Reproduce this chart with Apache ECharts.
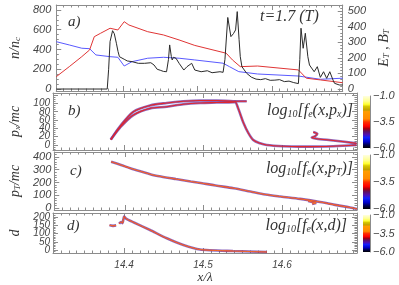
<!DOCTYPE html>
<html><head><meta charset="utf-8">
<script src="https://cdn.jsdelivr.net/npm/echarts@6/dist/echarts.min.js"></script>
<style>html,body{margin:0;padding:0;background:#fff}#c{width:399px;height:285px}</style>
</head><body><div id="c"></div><script>
// ---------- data ----------
const xMin = 14.31, xMax = 14.695;
// panel a: n/n_c (black, left axis)
const densX = [14.3101,14.3785,14.3804,14.3823,14.3857,14.3880,14.3908,14.3930,14.3949,14.4013,14.4054,14.4076,14.4118,14.4203,14.4287,14.4371,14.4414,14.4456,14.4497,14.4541,14.4582,14.4608,14.4624,14.4646,14.4658,14.4675,14.4709,14.4751,14.4814,14.4857,14.4920,14.4962,14.5047,14.5130,14.5194,14.5300,14.5342,14.5367,14.5405,14.5447,14.5481,14.5510,14.5532,14.5557,14.5573,14.5595,14.5658,14.5722,14.5785,14.5848,14.5911,14.5975,14.6038,14.6101,14.6165,14.6228,14.6291,14.6354,14.6373,14.6389,14.6418,14.6447,14.6481,14.6503,14.6523,14.6566,14.6608,14.6649,14.6692,14.6734,14.6776,14.6819,14.6839,14.6903,14.6949];
const densN = [0,0,200,480,590,560,463,380,327,301,284,294,277,260,260,266,243,200,190,178,175,300,446,330,294,321,311,260,192,226,260,192,175,185,165,175,169,300,724,530,560,598,783,500,327,226,160,120,100,95,105,88,90,95,75,80,65,55,300,615,412,564,327,243,260,175,226,118,175,108,175,91,58,41,41];
// panel a: E_T (red, right axis)
const etX = [14.3101,14.3275,14.3443,14.3548,14.3611,14.3696,14.3823,14.3928,14.4013,14.4076,14.4329,14.4541,14.4751,14.4962,14.5384,14.5468,14.5573,14.5806,14.6354,14.6460,14.6649,14.6949];
const etV = [79,143,207,250,335,357,389,378,431,410,367,346,314,279,229,186,143,147,122,69,58,40];
// panel a: B_T (blue, right axis)
const btX = [14.3101,14.3275,14.3443,14.3548,14.3633,14.3823,14.3928,14.4013,14.4118,14.4329,14.4541,14.4751,14.4962,14.5342,14.5427,14.5553,14.5806,14.6354,14.6649,14.6949];
const btV = [303,282,261,258,218,207,203,147,175,197,203,197,186,165,143,111,96,83,62,69];
// panel b: p_x/mc
const pxUpX = [14.3832,14.3949,14.4118,14.4329,14.4541,14.4751,14.4962,14.5173,14.5384,14.5553];
const pxUp = [13,45,80,95,101,105,107,107,105,105];
const pxLoX = [14.3832,14.3949,14.4118,14.4329,14.4541,14.4751,14.4962,14.5173,14.5384,14.5405,14.5447,14.5510,14.5573,14.5636,14.5722,14.5806,14.6017,14.6228,14.6649,14.6944];
const pxLo = [13,42,72,88,92,98,101,102,103,104,87,54,29,12,4,0,-3,-4,-3,0];
const pxCurlX = [14.6396,14.6447,14.6418,14.6377,14.6440,14.6649,14.6944];
const pxCurl = [31,27,21,18,15,11,4];
// panel c: p_T/mc
const ptX = [14.3823,14.3949,14.4076,14.4203,14.4329,14.4456,14.4646,14.4835,14.4962,14.5152,14.5380,14.5595,14.5785,14.5975,14.6228,14.6481,14.6671,14.6861,14.6949];
const pt = [363,337,310,286,263,247,227,208,196,176,155,129,106,90,71,47,24,4,-8];
const ptBlipX = [14.6329,14.6430,14.6380];
const ptBlip = [55,39,31];
// panel d: d
const dDashX = [14.3816,14.3861,14.3899];
const dDash = [150,146,149];
const dX = [14.3937,14.3962,14.3981,14.4000,14.4025,14.4118,14.4329,14.4541,14.4751,14.4962,14.5380,14.5810];
const dV = [160,170,163,203,190,168,121,71,30,3,-6,-12];
// colour bar tick labels (log10 f)
const cbLabels = ['\u22126.0','\u22123.5','\u22121.0'];

// ---------- styling ----------
const sans = 'Liberation Sans', serif = 'Liberation Serif';
const axCol = '#8c8c8c', lblCol = '#444';
const zip = (xs, ys) => xs.map((x, i) => [x, ys[i]]);
const sub = {fontFamily: serif, fontStyle: 'italic', fontSize: 9, color: '#333', verticalAlign: 'bottom', lineHeight: 8};

const grids = [
  {left: 53, top: 5, width: 304, height: 86},
  {left: 53, top: 93, width: 304, height: 57},
  {left: 53, top: 152, width: 304, height: 58},
  {left: 53, top: 213, width: 304, height: 40},
  {left: 363, top: 96, width: 7, height: 52},
  {left: 363, top: 155, width: 7, height: 54},
  {left: 363, top: 215, width: 7, height: 37}
];

function xAx(g, pos, showLabel, name) {
  return {type: 'value', gridIndex: g, position: pos, min: xMin, max: xMax, splitNumber: 4,
    axisLine: {onZero: false, lineStyle: {color: axCol}},
    axisTick: {inside: true, length: 5, lineStyle: {color: axCol}},
    minorTick: {show: true, splitNumber: 10, length: 2.5, lineStyle: {color: axCol}},
    splitLine: {show: false},
    axisLabel: {show: showLabel, showMinLabel: false, showMaxLabel: false, margin: 7, fontSize: 10,
      fontStyle: 'italic', fontFamily: sans, color: lblCol},
    name: name || '', nameLocation: 'middle', nameGap: 16,
    nameTextStyle: {fontFamily: serif, fontStyle: 'italic', fontSize: 13, color: '#333'}
  };
}
function yAx(g, pos, min, max, split, minor, showLabel, fs, margin, name, gap, labMax) {
  return {type: 'value', gridIndex: g, position: pos, min: min, max: max, splitNumber: split,
    axisLine: {onZero: false, lineStyle: {color: axCol}},
    axisTick: {inside: true, length: 5, lineStyle: {color: axCol}},
    minorTick: {show: true, splitNumber: minor, length: 2.5, lineStyle: {color: axCol}},
    splitLine: {show: false},
    axisLabel: {show: showLabel, showMinLabel: false, showMaxLabel: false, margin: margin, fontSize: fs,
      fontStyle: 'italic', fontFamily: sans, color: lblCol,
      formatter: v => (labMax != null && v > labMax) ? '' : String(v)},
    name: name || '', nameLocation: 'middle', nameGap: gap || 28,
    nameTextStyle: {fontFamily: serif, fontStyle: 'italic', fontSize: 14, color: '#333', rich: {s: sub}}
  };
}

const xAxes = [], yAxes = [];
for (let p = 0; p < 4; p++) {
  xAxes.push(xAx(p, 'bottom', p === 3, p === 3 ? 'x/\u03bb' : ''));
  xAxes.push(xAx(p, 'top', false));
}
yAxes.push(yAx(0, 'left', -20, 850, 5, 4, true, 11, 5, 'n/n{s|c}', 29));
yAxes.push(yAx(0, 'right', -13, 538, 5, 5, true, 11, 5, 'E{s|T} , B{s|T}', 24));
yAxes.push(yAx(1, 'left', -12, 125, 7, 4, true, 10, 3, 'p{s|x}/mc', 30, 100));
yAxes.push(yAx(1, 'right', -12, 125, 7, 4, false, 10, 3));
yAxes.push(yAx(2, 'left', -16, 439, 5, 5, true, 11, 3, 'p{s|T}/mc', 30));
yAxes.push(yAx(2, 'right', -16, 439, 5, 5, false, 10, 3));
yAxes.push(yAx(3, 'left', -18, 224, 5, 5, true, 10, 3, 'd', 30));
yAxes.push(yAx(3, 'right', -18, 224, 5, 5, false, 10, 3));

// colour bars
const cbStops = [[0,'#ffffe0'],[0.1,'#ffff90'],[0.16,'#ffff30'],[0.2,'#d8c800'],[0.27,'#c0a000'],[0.3,'#ff9c00'],[0.44,'#ff8a00'],[0.5,'#ff3000'],[0.58,'#ff0000'],[0.63,'#a00010'],[0.68,'#601060'],[0.74,'#5010b0'],[0.8,'#1020ff'],[0.88,'#0000c8'],[0.94,'#000050'],[1,'#000000']];
const series = [];
for (let k = 0; k < 3; k++) {
  const g = 4 + k;
  xAxes.push({type: 'category', gridIndex: g, data: ['f'], show: false});
  const yv = yAxes.length;
  yAxes.push({type: 'value', gridIndex: g, min: 0, max: 1, show: false});
  yAxes.push({type: 'category', gridIndex: g, position: 'right', data: cbLabels, boundaryGap: false,
    axisLine: {lineStyle: {color: axCol}}, axisTick: {inside: true, length: 3, lineStyle: {color: axCol}},
    splitLine: {show: false},
    axisLabel: {margin: 3, fontSize: 11, fontStyle: 'italic', fontFamily: sans, color: lblCol}});
  series.push({type: 'bar', xAxisIndex: xAxes.length - 1, yAxisIndex: yv, data: [1], barWidth: '100%', silent: true,
    itemStyle: {color: new echarts.graphic.LinearGradient(0, 0, 0, 1, cbStops.map(s => ({offset: s[0], color: s[1]})))}});
}

// panel a lines
const lineA = (xs, ys, yi, color, z) => ({type: 'line', xAxisIndex: 0, yAxisIndex: yi, data: zip(xs, ys),
  showSymbol: false, silent: true, z: z, lineStyle: {color: color, width: 1}});
series.push(lineA(btX, btV, 1, '#5a5aff', 2));
series.push(lineA(etX, etV, 1, '#e03535', 3));
series.push(lineA(densX, densN, 0, '#2a2a2a', 4));

// phase-space bands
function phase(xs, ys, p, smooth, orange) {
  const base = {type: 'line', xAxisIndex: 2 * p, yAxisIndex: 2 * p, data: zip(xs, ys), showSymbol: false,
    silent: true, smooth: smooth};
  const out = [
    Object.assign({}, base, {z: 2, lineStyle: {color: '#6a3aa8', width: 2.6, opacity: 0.75}}),
    Object.assign({}, base, {z: 3, lineStyle: {color: '#e0262c', width: 1.1}})
  ];
  if (orange) out.push(Object.assign({}, base, {z: 4, lineStyle: {color: '#ff9a2a', width: 0.6}}));
  return out;
}
series.push(...phase(pxUpX, pxUp, 1, 0.3, false));
series.push(...phase(pxLoX, pxLo, 1, 0.3, false));
series.push(...phase(pxCurlX, pxCurl, 1, 0.2, false));
series.push(...phase(ptX, pt, 2, 0.3, true));
series.push(...phase(ptBlipX, ptBlip, 2, 0, true));
series.push(...phase(dDashX, dDash, 3, 0, true));
series.push(...phase(dX, dV, 3, 0.2, true));

const txt = (pos, text, fs, rich) => Object.assign({type: 'text', silent: true,
  style: {text: text, fontFamily: serif, fontStyle: 'italic', fontSize: fs, fill: '#333', rich: rich || {}}}, pos);
const rsub = {s: {fontFamily: serif, fontStyle: 'italic', fontSize: 10, fill: '#333', verticalAlign: 'bottom', lineHeight: 8}};

const option = {
  animation: false,
  backgroundColor: '#fff',
  grid: grids,
  xAxis: xAxes,
  yAxis: yAxes,
  series: series,
  graphic: [
    txt({left: 68, top: 15}, 'a)', 15),
    txt({left: 260, top: 9}, 't=1.7 (T)', 16),
    txt({left: 68, top: 104}, 'b)', 15),
    txt({left: 70, top: 164}, 'c)', 15),
    txt({left: 67, top: 219}, 'd)', 15),
    txt({right: 46, top: 103}, 'log{s|10}[f{s|e}(x,p{s|x})]', 16, rsub),
    txt({right: 46, top: 161}, 'log{s|10}[f{s|e}(x,p{s|T})]', 16, rsub),
    txt({right: 52, top: 218}, 'log{s|10}[f{s|e}(x,d)]', 16, rsub)
  ]
};
const chart = echarts.init(document.getElementById('c'), null, {renderer: 'canvas'});
chart.setOption(option);
</script></body></html>
